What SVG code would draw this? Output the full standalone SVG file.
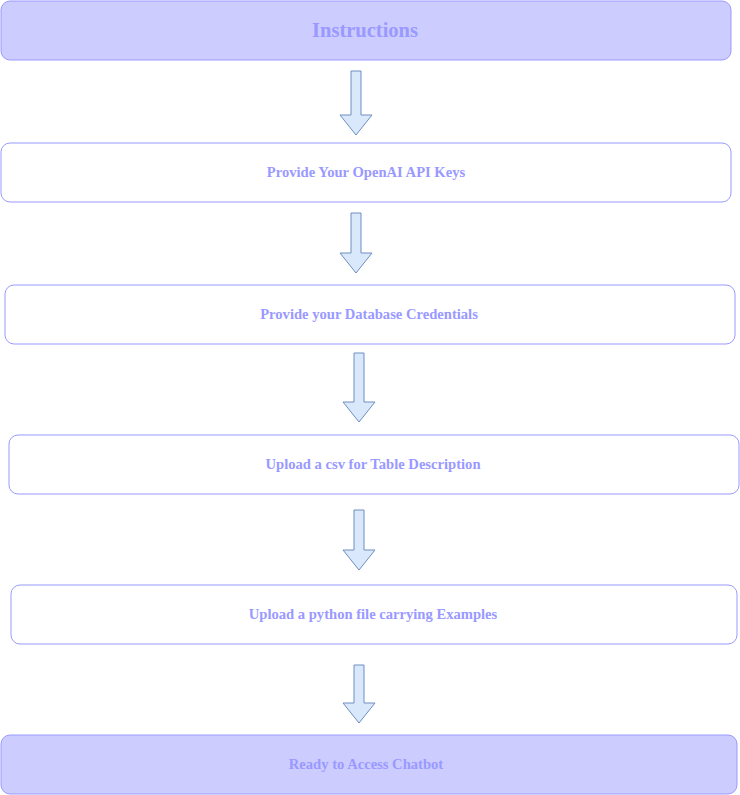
<svg xmlns="http://www.w3.org/2000/svg" width="740" height="795" viewBox="0 0 740 795">
<style>
.hd{fill:#CCCCFF;stroke:#9999FF;stroke-width:1}
.bx{fill:#FFFFFF;stroke:#9999FF;stroke-width:1}
.t{font-family:"Liberation Serif","DejaVu Serif",serif;font-weight:bold;fill:#9999FF;text-anchor:middle;dominant-baseline:central}
.s{font-size:14.6px}
.arr{fill:#DAE8FC;stroke:#6C8EBF;stroke-width:1}
</style>
<rect width="740" height="795" fill="#FFFFFF"/>
<g id="n1"><rect class="hd" x="1" y="1" width="730" height="59" rx="9"/><text class="t" x="365" y="30" font-size="20.5">Instructions</text></g>
<g id="n2"><rect class="bx" x="1" y="143" width="730" height="59" rx="9"/><text class="t s" x="366" y="172">Provide Your OpenAI API Keys</text></g>
<g id="n3"><rect class="bx" x="5" y="285" width="730" height="59" rx="9"/><text class="t s" x="369" y="314">Provide your Database Credentials</text></g>
<g id="n4"><rect class="bx" x="9" y="435" width="730" height="59" rx="9"/><text class="t s" x="373" y="464">Upload a csv for Table Description</text></g>
<g id="n5"><rect class="bx" x="11" y="585" width="726" height="59" rx="9"/><text class="t s" x="373" y="614">Upload a python file carrying Examples</text></g>
<g id="n6"><rect class="hd" x="1" y="735" width="736" height="59" rx="9"/><text class="t s" x="366" y="764">Ready to Access Chatbot</text></g>
<g id="connectors">
<path class="arr" d="M351,71 H361 V115 H372 L356,135 L340,115 H351 Z"/>
<path class="arr" d="M351,213 H361 V253 H372 L356,273 L340,253 H351 Z"/>
<path class="arr" d="M354,353 H364 V402 H375 L359,422 L343,402 H354 Z"/>
<path class="arr" d="M354,510 H364 V550 H375 L359,570 L343,550 H354 Z"/>
<path class="arr" d="M354,665 H364 V703 H375 L359,723 L343,703 H354 Z"/>
</g>
</svg>
